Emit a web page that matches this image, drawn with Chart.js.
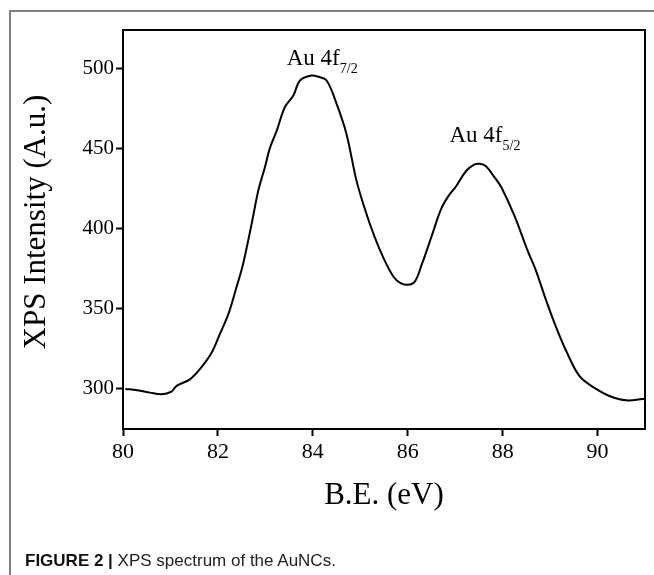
<!DOCTYPE html>
<html>
<head>
<meta charset="utf-8">
<script src="https://cdn.jsdelivr.net/npm/chart.js@4"></script>
<style>
  html, body { margin: 0; padding: 0; background: #fff; }
  #wrap { position: relative; width: 654px; height: 575px; overflow: hidden; }
  #xps { position: absolute; left: 0; top: 0; }
  #frame { position: absolute; left: 9px; top: 10px; width: 660px; height: 600px;
           border-top: 2px solid #808080; border-left: 2px solid #808080; }
  #cap { position: absolute; left: 25px; top: 551px; line-height: 17px; white-space: nowrap;
         font: 17px "Liberation Sans", Arial, sans-serif; color: #222; }
  #cap b { font-weight: bold; color: #111; }
</style>
</head>
<body>
<div id="wrap">
  <div id="frame"></div>
  <canvas id="xps" width="654" height="575"></canvas>
  <div id="cap"><b>FIGURE 2 |</b> XPS spectrum of the AuNCs.</div>
</div>
<script>
// binding energy (eV) and intensity
var bindingEnergy = [80.05, 80.3, 80.57, 80.81, 81.02, 81.13, 81.41, 81.62, 81.87, 82.04,
  82.22, 82.39, 82.53, 82.71, 82.85, 82.99, 83.09, 83.24, 83.41, 83.59,
  83.73, 83.97, 84.1, 84.29, 84.5, 84.71, 84.92, 85.1, 85.3, 85.5,
  85.7, 85.85, 86.0, 86.15, 86.3, 86.5, 86.7, 86.85, 87.02, 87.23,
  87.4, 87.52, 87.65, 87.83, 87.97, 88.25, 88.53, 88.7, 88.92, 89.13,
  89.34, 89.62, 89.97, 90.25, 90.6, 91.0]
var intensity = [300.0, 299.2, 297.7, 296.7, 298.3, 301.9, 306, 312.3, 322.7, 334.2,
  346.7, 363.3, 377.9, 402.9, 423.7, 438.3, 449.8, 461.2, 475.8, 483.1,
  492.5, 495.6, 495, 492.5, 478, 459, 430, 412, 395, 381,
  370, 366, 365, 367, 378, 395, 412, 420, 426.5, 436,
  440, 440.5, 439, 432, 426, 408, 386, 374, 355, 338.3,
  323.7, 308, 300, 295.6, 292.9, 293.9]

var xTicks = [80, 82, 84, 86, 88, 90]
var yTicks = [300, 350, 400, 450, 500]

// peak labels: [main text, subscript, x (eV), y (intensity)]
var peakLabels = [
  ["Au 4f", "7/2", 83.45, 502],
  ["Au 4f", "5/2", 86.88, 454]
]

var points = bindingEnergy.map(function(e, i){ return {x: e, y: intensity[i]} })

var serif = "'Liberation Serif', 'Times New Roman', serif"

var decor = {
  id: 'decor',
  afterDraw: function(chart){
    var ctx = chart.ctx
    var a = chart.chartArea
    var xs = chart.scales.x
    var ys = chart.scales.y
    ctx.save()
    // box around the plot
    ctx.strokeStyle = '#000'
    ctx.lineWidth = 2
    ctx.strokeRect(a.left, a.top, a.right - a.left, a.bottom - a.top)

    ctx.fillStyle = '#000'
    // axis titles
    ctx.font = '31px ' + serif
    ctx.textAlign = 'center'
    ctx.textBaseline = 'alphabetic'
    ctx.fillText('B.E. (eV)', (a.left + a.right) / 2, 504)

    ctx.save()
    ctx.translate(45, 222)
    ctx.rotate(-Math.PI / 2)
    ctx.fillText('XPS Intensity (A.u.)', 0, 0)
    ctx.restore()

    // peak names with subscripts
    ctx.textAlign = 'left'
    peakLabels.forEach(function(p){
      var px = xs.getPixelForValue(p[2])
      var py = ys.getPixelForValue(p[3])
      ctx.font = '23px ' + serif
      ctx.fillText(p[0], px, py)
      var w = ctx.measureText(p[0]).width
      ctx.font = '14px ' + serif
      ctx.fillText(p[1], px + w, py + 8)
    })
    ctx.restore()
  }
}

new Chart(document.getElementById('xps'), {
  type: 'line',
  data: {
    datasets: [{
      label: 'XPS',
      data: points,
      borderColor: '#000',
      borderWidth: 2,
      pointRadius: 0,
      tension: 0.35,
      fill: false
    }]
  },
  options: {
    responsive: false,
    animation: false,
    devicePixelRatio: 1,
    layout: { padding: { left: 0, top: 30, right: 9, bottom: 0 } },
    plugins: { legend: { display: false }, tooltip: { enabled: false } },
    scales: {
      x: {
        type: 'linear',
        min: 80,
        max: 91,
        afterBuildTicks: function(s){ s.ticks = xTicks.map(function(v){ return {value: v} }) },
        afterFit: function(s){ s.height = 146 },
        ticks: { color: '#000', padding: 3, maxRotation: 0, font: { family: serif, size: 22 } },
        grid: { drawOnChartArea: false, tickLength: 7, tickColor: '#000', tickWidth: 2 },
        border: { color: '#000', width: 2 }
      },
      y: {
        min: 275,
        max: 524,
        afterBuildTicks: function(s){ s.ticks = yTicks.map(function(v){ return {value: v} }) },
        afterFit: function(s){ s.width = 123 },
        ticks: { color: '#000', padding: 2, font: { family: serif, size: 21 } },
        grid: { drawOnChartArea: false, tickLength: 7, tickColor: '#000', tickWidth: 2 },
        border: { color: '#000', width: 2 }
      }
    }
  },
  plugins: [decor]
})
</script>
</body>
</html>
